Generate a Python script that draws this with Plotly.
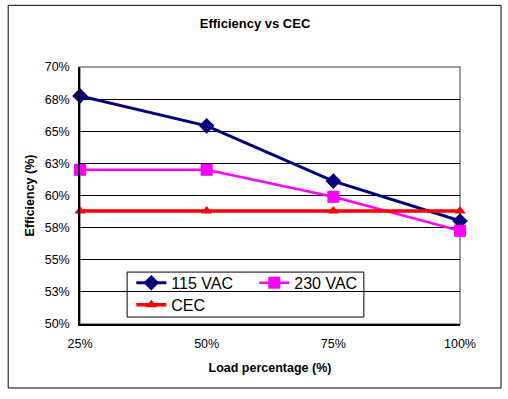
import plotly.graph_objects as go

load_pct = [25, 50, 75, 100]
x_tick_labels = ["25%", "50%", "75%", "100%"]
eff_115 = [67.75, 65.42, 61.12, 58.02]
eff_230 = [62.0, 62.0, 59.9, 57.25]
cec = [58.8, 58.8, 58.8, 58.8]
y_tick_vals = [50, 52.5, 55, 57.5, 60, 62.5, 65, 67.5, 70]
y_tick_labels = ["50%", "53%", "55%", "58%", "60%", "63%", "65%", "68%", "70%"]

FONT = "Liberation Sans, Arial, sans-serif"

fig = go.Figure()
fig.add_trace(go.Scatter(
    x=load_pct, y=eff_115, name="115 VAC", mode="lines+markers",
    line=dict(color="#000080", width=3),
    marker=dict(symbol="diamond", size=12, color="#000080"),
    legend="legend", cliponaxis=False))
fig.add_trace(go.Scatter(
    x=load_pct, y=eff_230, name="230 VAC", mode="lines+markers",
    line=dict(color="#FF00FF", width=2.5),
    marker=dict(symbol="square", size=12, color="#FF00FF"),
    legend="legend", cliponaxis=False))
fig.add_trace(go.Scatter(
    x=load_pct, y=cec, name="CEC", mode="lines+markers",
    line=dict(color="#FF0000", width=3.5),
    marker=dict(symbol="triangle-up", size=10, color="#FF0000"),
    legend="legend2", cliponaxis=False))

# outer chart border
fig.add_shape(type="rect", xref="paper", yref="paper",
              x0=-0.189, x1=1.108, y0=-0.249, y1=1.240,
              line=dict(color="black", width=1), fillcolor="rgba(0,0,0,0)", layer="below")
# plot area border (gray)
fig.add_shape(type="rect", xref="paper", yref="paper",
              x0=0, x1=1, y0=0, y1=1,
              line=dict(color="#808080", width=1.5), layer="between")
# legend box
fig.add_shape(type="rect", xref="paper", yref="paper",
              x0=0.124, x1=0.747, y0=0.027, y1=0.202,
              line=dict(color="black", width=1), fillcolor="white", layer="between")

fig.update_layout(
    width=508, height=399,
    margin=dict(l=80, r=48, t=67, b=75),
    paper_bgcolor="white", plot_bgcolor="white",
    font=dict(family=FONT, color="black", size=12),
    title=dict(text="<b>Efficiency vs CEC</b>", x=255/508, xanchor="center",
               y=1 - 23/399, yanchor="middle", font=dict(size=13)),
    xaxis=dict(range=[25, 100], tickvals=load_pct, ticktext=x_tick_labels,
               showgrid=False, showline=True, linecolor="black", linewidth=1.5,
               zeroline=False, ticks="", tickfont=dict(size=12.5), ticklabelstandoff=7,
               title=dict(text="<b>Load percentage (%)</b>", font=dict(size=12.5), standoff=13)),
    yaxis=dict(range=[50, 70], tickvals=y_tick_vals, ticktext=y_tick_labels,
               showgrid=True, gridcolor="black", gridwidth=1,
               showline=True, linecolor="black", linewidth=1.5,
               zeroline=False, ticks="", tickfont=dict(size=12.5), ticklabelstandoff=6,
               title=dict(text="<b>Efficiency (%)</b>", font=dict(size=12.5), standoff=7)),
    legend=dict(orientation="h", x=0.135, y=0.16, xanchor="left", yanchor="middle",
                bgcolor="rgba(0,0,0,0)", borderwidth=0, font=dict(size=16),
                entrywidth=78, itemwidth=30, tracegroupgap=0),
    legend2=dict(orientation="h", x=0.135, y=0.075, xanchor="left", yanchor="middle",
                 bgcolor="rgba(0,0,0,0)", borderwidth=0, font=dict(size=16),
                 itemwidth=30),
    showlegend=True,
)

fig.write_html("out.html", config={"displayModeBar": False},
               post_script="document.body.style.margin='0';document.body.style.overflow='hidden';")
